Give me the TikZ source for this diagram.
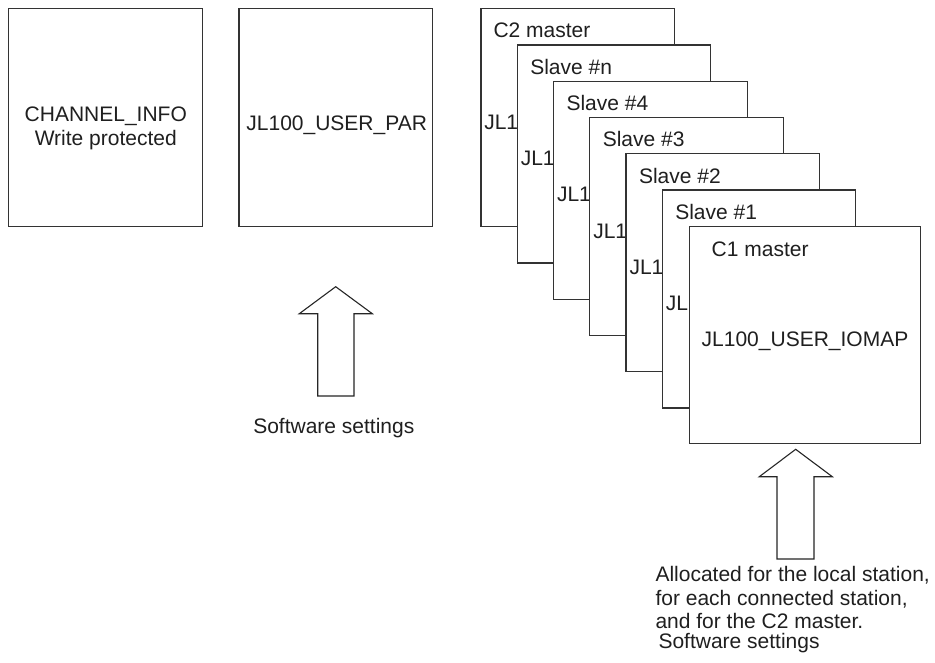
\documentclass[tikz,border=0pt]{standalone}
\usepackage{fontspec}
\setmainfont{Liberation Sans}
\begin{document}
\begin{tikzpicture}[x=1pt,y=-1pt,
  every node/.style={inner sep=0pt,outer sep=0pt,text=black!88,
    font=\fontsize{21pt}{24pt}\selectfont},
  area/.style={draw=black!80,line width=1.1pt,fill=white,rectangle,
    anchor=north west,minimum width=193.6pt,minimum height=218pt},
  bigarea/.style={area,minimum width=230.6pt,minimum height=217pt},
  lbl/.style={anchor=base west},
  blockarrow/.style={draw=black!85,line width=1.1pt,line join=miter,fill=white}]
\useasboundingbox (0,0) rectangle (935,662);

% stand-alone areas
\node[area] (chan) at (8.5,8.5) {};
\node[anchor=base,align=center] (chantxt) at (105.8,145.7) {CHANNEL\_INFO\\Write protected};
\node[area] (upar) at (239,8.5) {};
\node[anchor=base] (upartxt) at (336.7,130) {JL100\_USER\_PAR};

% stacked I/O map areas, back to front
\node[area] (c2) at (481,8.7) {};
\node[lbl] (c2lbl) at (493.5,37.3) {C2 master};
\node[lbl] (c2jl) at (484.3,129.3) {JL1};

\node[area] (sn) at (517.25,44.95) {};
\node[lbl] (snlbl) at (530.25,74.2) {Slave \#n};
\node[lbl] (snjl) at (520.75,165.6) {JL1};

\node[area] (s4) at (553.5,81.2) {};
\node[lbl] (s4lbl) at (566.5,110.5) {Slave \#4};
\node[lbl] (s4jl) at (557,201.8) {JL1};

\node[area] (s3) at (589.75,117.45) {};
\node[lbl] (s3lbl) at (602.75,146.7) {Slave \#3};
\node[lbl] (s3jl) at (593.25,238) {JL1};

\node[area] (s2) at (626,153.7) {};
\node[lbl] (s2lbl) at (639,183) {Slave \#2};
\node[lbl] (s2jl) at (629.5,274.3) {JL1};

\node[area] (s1) at (662.25,189.95) {};
\node[lbl] (s1lbl) at (675.25,219.2) {Slave \#1};
\node[lbl] (s1jl) at (665.75,310.5) {JL1};

\node[bigarea] (c1) at (689.7,226.7) {};
\node[lbl] (c1lbl) at (711.7,256) {C1 master};
\node[anchor=base] (c1txt) at (805,346) {JL100\_USER\_IOMAP};

% hollow block arrows
\draw[blockarrow] (335.7,286.7) -- (372.3,313.7) -- (354,313.7) -- (354,396)
  -- (317.7,396) -- (317.7,313.7) -- (299.3,313.7) -- cycle;
\node[anchor=base] (sw1) at (333.8,433.3) {Software settings};

\draw[blockarrow] (795.7,449.3) -- (832.3,476.7) -- (814,476.7) -- (814,559)
  -- (777,559) -- (777,476.7) -- (759.3,476.7) -- cycle;
\node[anchor=base west,align=left,font=\fontsize{21pt}{23.3pt}\selectfont] (alloc) at (655.5,648.3)
  {Allocated for the local station,\\for each connected station,\\and for the C2 master.\\[-3.3pt]\hspace{3pt}Software settings};
\end{tikzpicture}
\end{document}
